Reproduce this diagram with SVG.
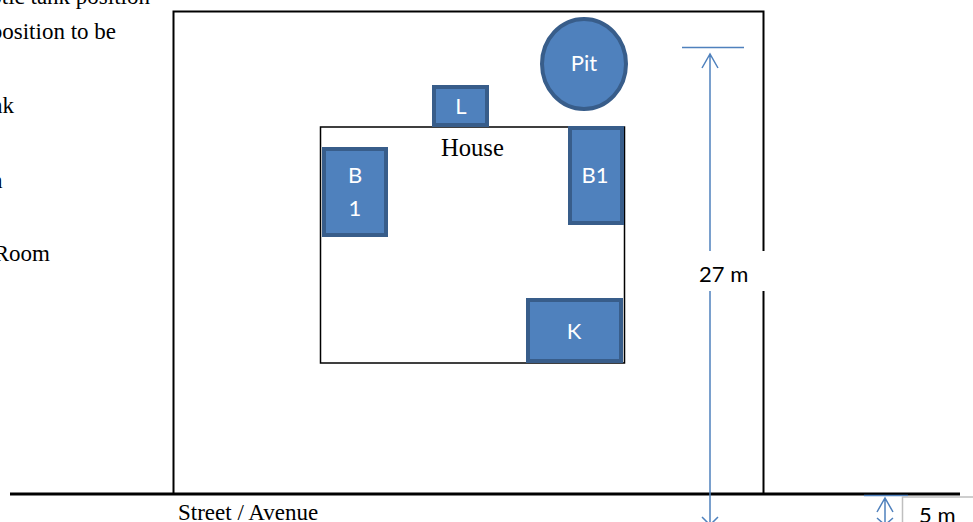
<svg xmlns="http://www.w3.org/2000/svg" width="973" height="522" viewBox="0 0 973 522">
<style>
.t{font-family:"Liberation Serif",serif;font-size:23px;fill:#000}
.e{text-anchor:end}
.c{font-family:Lato,"Open Sans",sans-serif;font-size:22px;fill:#000}
.w{font-family:Lato,"Open Sans",sans-serif;font-size:22px;fill:#fff;text-anchor:middle}
.n{fill:#4f81bd;stroke:#385d8a;stroke-width:4}
.b{fill:none;stroke:#000;stroke-width:2}
.a{fill:none;stroke:#4f81bd;stroke-width:1.500}
</style>
<rect width="973" height="522" fill="#fff"/>
<g id="notes">
<text class="t e" x="150" y="4">Septic tank position</text>
<text class="t e" x="116" y="39">position to be</text>
<text class="t e" x="14" y="113">tank</text>
<text class="t" x="-9" y="188">n</text>
<text class="t e" x="50" y="261">Room</text>
</g>
<g id="plot"><path class="b" d="M173.500 494V11.500H763.500V251M763.500 291V494"/></g>
<g id="house"><rect x="320.500" y="127" width="304" height="236" fill="#fff" stroke="#000" stroke-width="1.500"/><text class="t" x="441" y="156" style="font-size:24.600px">House</text></g>
<g id="pit"><ellipse class="n" cx="584" cy="64" rx="42" ry="45"/><text class="w" x="584" y="71">Pit</text></g>
<g id="L"><rect class="n" x="434" y="87" width="53" height="38"/><text class="w" x="461" y="114">L</text></g>
<g id="B-left"><rect class="n" x="324" y="149" width="62" height="86"/><text class="w" x="355" y="183">B</text><text class="w" x="355" y="216">1</text></g>
<g id="B1"><rect class="n" x="570" y="128" width="52" height="95"/><text class="w" x="595" y="183">B1</text></g>
<g id="K"><rect class="n" x="528" y="300" width="93" height="61"/><text class="w" x="574" y="339">K</text></g>
<g id="street"><line x1="10" y1="494" x2="960" y2="494" stroke="#000" stroke-width="3"/><text class="t" x="178" y="520">Street / Avenue</text></g>
<g id="connectors">
<path class="a" d="M682 47.500H744M710 54V251M710 291V522M702 68L710 54L718 68"/>
<path class="a" d="M702 517L710 525L718 517"/>
<path class="a" d="M864 495.500H908M885 498V522M877 512L885 498L893 512M877 518L885 525L893 518"/>
</g>
<g id="label-27"><text class="c" x="699" y="282">27 m</text></g>
<g id="label-5"><path d="M902.500 522V497H973" fill="none" stroke="#bfbfbf" stroke-width="1.500"/><text class="c" x="919" y="523">5 m</text></g>
</svg>
